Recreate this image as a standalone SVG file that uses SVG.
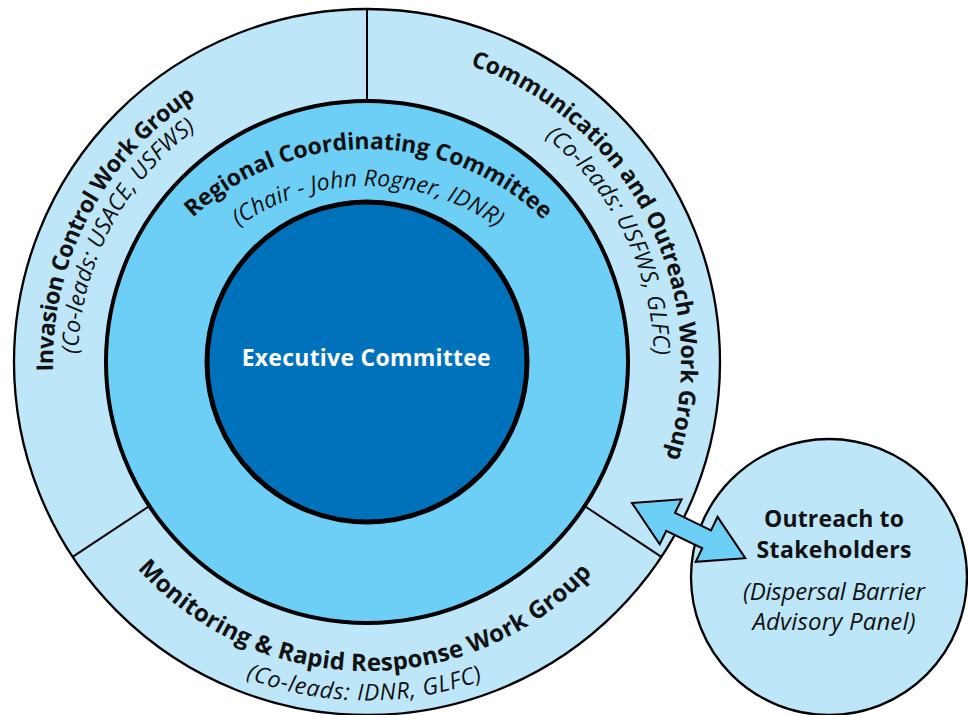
<svg xmlns="http://www.w3.org/2000/svg" width="968" height="715" viewBox="0 0 968 715">
<style>
.ring{fill:#bde6f9;stroke:#000;stroke-width:2.3}
.mid{fill:#6dcff6;stroke:#000;stroke-width:4}
.core{fill:#0072bc;stroke:#000;stroke-width:5}
.div{stroke:#000;stroke-width:2;fill:none}
.b{font-family:"Open Sans","Noto Sans","Liberation Sans",sans-serif;font-weight:700;font-size:23px;fill:#111}
.i{font-family:"Open Sans","Noto Sans","Liberation Sans",sans-serif;font-style:italic;font-weight:400;font-size:23px;fill:#111}
.w{fill:#fff}
.arrow{fill:#6dcff6;stroke:#000;stroke-width:2;stroke-linejoin:miter}
</style>
<defs>
<path id="pInv" d="M53.1,371.3 A314,314 0 0 1 196.0,98.7"/>
<path id="pInvI" d="M78.1,353.9 A289,289 0 0 1 195.9,129.1"/>
<path id="pCom" d="M470.3,65.5 A314,314 0 0 1 666.2,457.5"/>
<path id="pComI" d="M544.9,136.8 A287,287 0 0 1 653.9,355.0"/>
<path id="pMon" d="M137.4,568.8 A309,309 0 0 0 592.3,573.5"/>
<path id="pMonI" d="M245.7,678.0 A338.5,338.5 0 0 0 482.8,680.1"/>
<path id="pReg" d="M192.8,217.8 A255,255 0 0 1 543.5,219.9"/>
<path id="pRegI" d="M238.5,226.5 A224,224 0 0 1 497.1,227.6"/>
</defs>
<rect width="968" height="715" fill="#fff"/>
<g id="work-groups">
<circle class="ring" cx="367" cy="362" r="353"/>
<line class="div" x1="367" y1="9" x2="367" y2="101"/>
<line class="div" x1="72.6" y1="556.9" x2="149.3" y2="506.1"/>
<line class="div" x1="661.4" y1="556.9" x2="584.7" y2="506.1"/>
</g>
<g id="invasion-control">
<text class="b"><textPath href="#pInv" textLength="321.7">Invasion Control Work Group</textPath></text>
<text class="i"><textPath href="#pInvI" textLength="262.8">(Co-leads: USACE, USFWS)</textPath></text>
</g>
<g id="communication-outreach">
<text class="b"><textPath href="#pCom" textLength="485">Communication and Outreach Work Group</textPath></text>
<text class="i"><textPath href="#pComI" textLength="252">(Co-leads: USFWS, GLFC)</textPath></text>
</g>
<g id="monitoring-rapid-response">
<text class="b" style="font-size:24px"><textPath href="#pMon" textLength="511">Monitoring &amp; Rapid Response Work Group</textPath></text>
<text class="i"><textPath href="#pMonI" textLength="242">(Co-leads: IDNR, GLFC)</textPath></text>
</g>
<g id="regional-coordinating-committee">
<circle class="mid" cx="367" cy="362" r="261"/>
<text class="b"><textPath href="#pReg" textLength="386.8">Regional Coordinating Committee</textPath></text>
<text class="i"><textPath href="#pRegI" textLength="275.6">(Chair - John Rogner, IDNR)</textPath></text>
</g>
<g id="executive-committee">
<circle class="core" cx="367" cy="362" r="160"/>
<text class="b w" x="366.2" y="365.7" text-anchor="middle" textLength="249">Executive Committee</text>
</g>
<g id="outreach-to-stakeholders">
<circle class="ring" cx="829" cy="577" r="138"/>
<text class="b" x="834" y="527" text-anchor="middle" textLength="140">Outreach to</text>
<text class="b" x="834" y="558" text-anchor="middle" textLength="155">Stakeholders</text>
<text class="i" style="font-size:24px" x="834" y="600" text-anchor="middle" textLength="182">(Dispersal Barrier</text>
<text class="i" style="font-size:24px" x="834" y="630" text-anchor="middle" textLength="163">Advisory Panel)</text>
</g>
<g id="connectors">
<polygon class="arrow" transform="translate(632,503) rotate(25.95)" points="0,0 43,-25 43,-10 83,-10 83,-25 126,0 83,25 83,10 43,10 43,25"/>
</g>
</svg>
